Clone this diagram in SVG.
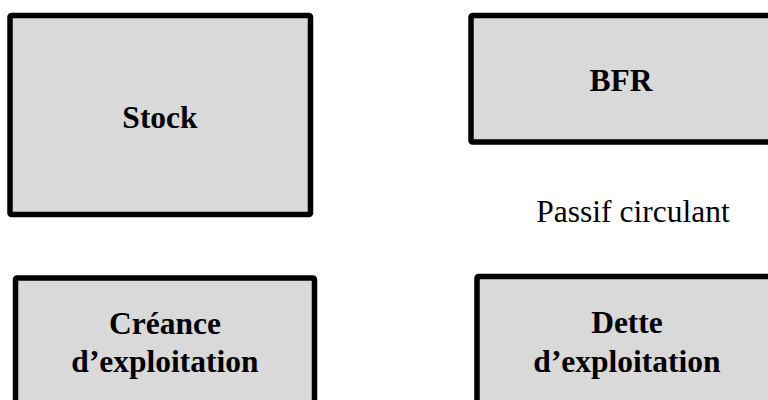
<svg xmlns="http://www.w3.org/2000/svg" width="768" height="400" viewBox="0 0 768 400">
<style>
.box{fill:#d9d9d9;stroke:#000;stroke-width:5.5;}
.lbl{font-family:"Liberation Serif","Times New Roman",serif;font-weight:bold;font-size:31.5px;fill:#000;text-anchor:middle;}
.plain{font-family:"Liberation Serif","Times New Roman",serif;font-size:31.5px;fill:#000;text-anchor:middle;}
</style>
<rect width="768" height="400" fill="#fff"/>
<g id="stock">
<rect class="box" x="10" y="15.5" width="300.5" height="199" rx="1.5"/>
<text class="lbl" x="160" y="128">Stock</text>
</g>
<g id="bfr">
<rect class="box" x="471" y="15.5" width="310" height="126.5" rx="1.5"/>
<text class="lbl" x="621" y="90.5">BFR</text>
</g>
<g id="passif">
<text class="plain" x="633" y="222">Passif circulant</text>
</g>
<g id="creance">
<rect class="box" x="15.5" y="278" width="299" height="140" rx="1.5"/>
<text class="lbl" x="165" y="334">Créance</text>
<text class="lbl" x="165" y="371.5">d’exploitation</text>
</g>
<g id="dette">
<rect class="box" x="477" y="276.5" width="305" height="140" rx="1.5"/>
<text class="lbl" x="627" y="332.5">Dette</text>
<text class="lbl" x="627" y="371.5">d’exploitation</text>
</g>
<g id="connectors"></g>
</svg>
